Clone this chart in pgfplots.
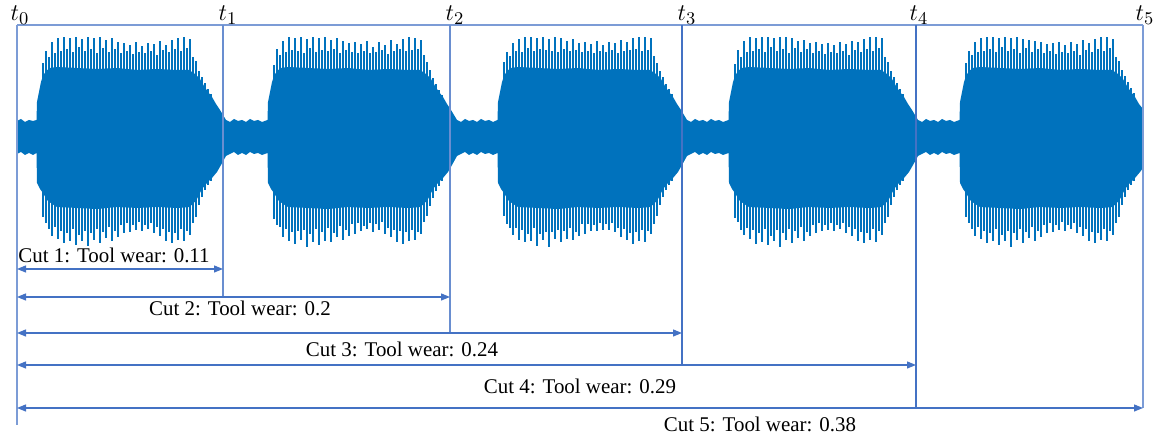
\documentclass[border=0pt]{standalone}
\usepackage{pgfplots}
\pgfplotsset{compat=1.18}
\usepgfplotslibrary{fillbetween}
\usetikzlibrary{arrows.meta}
\usepackage{fontspec}
\setmainfont{Liberation Serif}
\definecolor{mblue}{HTML}{0072BD}
\definecolor{lblue}{HTML}{4472C4}
\begin{document}
\begin{tikzpicture}
\begin{axis}[x=0.5bp,y=0.5bp,xmin=-17,xmax=1142,ymin=-306,ymax=137,hide axis,clip=false]
\path (axis cs:-17,-306) rectangle (axis cs:1142,137);
% upper envelope
\addplot[draw=none,name path=top] coordinates {
(0,16)(4,18)(8,15)(12,17)(16,16)(19.5,17)
(20,35)(22,45)(24,55)(26,61)(29,66)(33,69)(40,70)(60,69)(80,68)(100,69)(120,67)(140,68)(160,67)(172,67)(178,63)(183,58)(187,51)(191,45)(195,40)(199,33)(203,27)(206,22)(209,17)
(213,15)(217,18)(221,16)(225,17)(229,15)(233,18)(237,16)(241,17)(245,15)(250.5,17)
(251,35)(253,45)(255,55)(257,61)(260,66)(264,69)(271,70)(291,69)(311,68)(331,69)(351,67)(371,68)(391,67)(403,67)(409,63)(414,58)(418,51)(422,45)(426,40)(430,33)(434,27)(437,22)(440,17)
(444,15)(448,18)(452,16)(456,17)(460,15)(464,18)(468,16)(472,17)(476,15)(480.5,17)
(481,35)(483,45)(485,55)(487,61)(490,66)(494,69)(501,70)(521,69)(541,68)(561,69)(581,67)(601,68)(621,67)(633,67)(639,63)(644,58)(648,51)(652,45)(656,40)(660,33)(664,27)(667,22)(670,17)
(674,15)(678,18)(682,16)(686,17)(690,15)(694,18)(698,16)(702,17)(706,15)(711.5,17)
(712,35)(714,45)(716,55)(718,61)(721,66)(725,69)(732,70)(752,69)(772,68)(792,69)(812,67)(832,68)(852,67)(864,67)(870,63)(875,58)(879,51)(883,45)(887,40)(891,33)(895,27)(898,22)(901,17)
(905,15)(909,18)(913,16)(917,17)(921,15)(925,18)(929,16)(933,17)(937,15)(942.5,17)
(943,35)(945,45)(947,55)(949,61)(952,66)(956,69)(963,70)(983,69)(1003,68)(1023,69)(1043,67)(1063,68)(1083,67)(1095,67)(1101,63)(1106,58)(1110,51)(1114,45)(1118,40)(1122,33)(1126,28)
};
% lower envelope
\addplot[draw=none,name path=bot] coordinates {
(0,-17)(4,-15)(8,-18)(12,-16)(16,-18)(19.5,-16)
(20,-46)(23,-52)(26,-56)(30,-63)(35,-67)(40,-70)(60,-71)(80,-72)(100,-70)(120,-71)(140,-70)(160,-71)(172,-70)(176,-67)(180,-62)(185,-52)(190,-46)(195,-41)(200,-35)(204,-28)(209,-19)
(213,-17)(217,-15)(221,-18)(225,-16)(229,-18)(233,-15)(237,-17)(241,-16)(245,-18)(250.5,-16)
(251,-46)(254,-52)(257,-56)(261,-63)(266,-67)(271,-70)(291,-71)(311,-72)(331,-70)(351,-71)(371,-70)(391,-71)(403,-70)(407,-67)(411,-62)(416,-52)(421,-46)(426,-41)(431,-35)(435,-28)(440,-19)
(444,-17)(448,-15)(452,-18)(456,-16)(460,-18)(464,-15)(468,-17)(472,-16)(476,-18)(480.5,-16)
(481,-46)(484,-52)(487,-56)(491,-63)(496,-67)(501,-70)(521,-71)(541,-72)(561,-70)(581,-71)(601,-70)(621,-71)(633,-70)(637,-67)(641,-62)(646,-52)(651,-46)(656,-41)(661,-35)(665,-28)(670,-19)
(674,-17)(678,-15)(682,-18)(686,-16)(690,-18)(694,-15)(698,-17)(702,-16)(706,-18)(711.5,-16)
(712,-46)(715,-52)(718,-56)(722,-63)(727,-67)(732,-70)(752,-71)(772,-72)(792,-70)(812,-71)(832,-70)(852,-71)(864,-70)(868,-67)(872,-62)(877,-52)(882,-46)(887,-41)(892,-35)(896,-28)(901,-19)
(905,-17)(909,-15)(913,-18)(917,-16)(921,-18)(925,-15)(929,-17)(933,-16)(937,-18)(942.5,-16)
(943,-46)(946,-52)(949,-56)(953,-63)(958,-67)(963,-70)(983,-71)(1003,-72)(1023,-70)(1043,-71)(1063,-70)(1083,-71)(1095,-70)(1099,-67)(1103,-62)(1108,-52)(1113,-46)(1118,-41)(1123,-35)(1126,-31)
};
\addplot[mblue] fill between[of=top and bot];
% upper peaks
\addplot[ycomb,mblue,line width=0.95bp] coordinates {
(26,74)(29,86)(32,80)(35,95)(38,84)(41,99)(44,86)(47,100)(50,88)(53,99)(56,85)(59,100)(62,90)(65,98)(68,86)(71,100)(74,88)(77,99)(80,84)(83,100)(86,89)(89,97)(92,85)(95,99)(98,88)(101,95)(104,84)(107,94)(110,86)(113,92)(116,83)(119,95)(122,85)(125,91)(128,84)(131,94)(134,86)(137,93)(140,82)(143,96)(146,87)(149,92)(152,85)(155,97)(158,88)(161,99)(164,86)(167,100)(170,89)(173,98)(176,80)(179,76)(182,66)(185,60)(188,54)(191,48)(194,43)
(257,72)(260,88)(263,82)(266,96)(269,85)(272,100)(275,87)(278,99)(281,86)(284,100)(287,84)(290,98)(293,89)(296,100)(299,85)(302,99)(305,87)(308,100)(311,86)(314,97)(317,88)(320,99)(323,84)(326,96)(329,87)(332,94)(335,85)(338,95)(341,84)(344,93)(347,86)(350,96)(353,84)(356,90)(359,85)(362,95)(365,87)(368,92)(371,83)(374,97)(377,86)(380,93)(383,88)(386,98)(389,86)(392,100)(395,87)(398,99)(401,88)(404,97)(407,82)(410,75)(413,67)(416,59)(419,53)(422,47)(425,42)
(487,75)(490,85)(493,81)(496,94)(499,86)(502,98)(505,85)(508,100)(511,89)(514,100)(517,86)(520,99)(523,88)(526,100)(529,87)(532,98)(535,86)(538,100)(541,85)(544,99)(547,88)(550,96)(553,86)(556,98)(559,87)(562,94)(565,85)(568,95)(571,86)(574,93)(577,84)(580,96)(583,86)(586,92)(589,85)(592,95)(595,87)(598,94)(601,84)(604,97)(607,86)(610,95)(613,87)(616,99)(619,88)(622,100)(625,86)(628,100)(631,87)(634,99)(637,81)(640,74)(643,66)(646,60)(649,53)(652,48)(655,43)
(718,73)(721,87)(724,80)(727,96)(730,85)(733,100)(736,86)(739,99)(742,88)(745,100)(748,85)(751,100)(754,90)(757,99)(760,86)(763,100)(766,88)(769,100)(772,84)(775,99)(778,89)(781,96)(784,85)(787,97)(790,88)(793,94)(796,84)(799,95)(802,86)(805,93)(808,83)(811,94)(814,85)(817,92)(820,84)(823,95)(826,86)(829,93)(832,82)(835,96)(838,87)(841,95)(844,85)(847,98)(850,88)(853,100)(856,86)(859,100)(862,89)(865,99)(868,80)(871,75)(874,66)(877,60)(880,54)(883,48)(886,43)
(949,74)(952,86)(955,82)(958,95)(961,85)(964,99)(967,86)(970,100)(973,88)(976,100)(979,85)(982,99)(985,90)(988,100)(991,86)(994,99)(997,88)(1000,100)(1003,84)(1006,98)(1009,89)(1012,97)(1015,85)(1018,96)(1021,88)(1024,95)(1027,84)(1030,93)(1033,86)(1036,94)(1039,83)(1042,95)(1045,85)(1048,92)(1051,84)(1054,95)(1057,86)(1060,93)(1063,82)(1066,97)(1069,87)(1072,94)(1075,85)(1078,98)(1081,88)(1084,100)(1087,86)(1090,100)(1093,89)(1096,98)(1099,80)(1102,76)(1105,67)(1108,61)(1111,55)(1114,49)(1117,44)
};
% lower peaks
\addplot[ycomb,mblue,line width=0.95bp] coordinates {
(26,-80)(29,-86)(32,-92)(35,-99)(38,-90)(41,-102)(44,-94)(47,-106)(50,-96)(53,-104)(56,-92)(59,-108)(62,-98)(65,-104)(68,-94)(71,-109)(74,-96)(77,-103)(80,-92)(83,-106)(86,-95)(89,-101)(92,-90)(95,-104)(98,-94)(101,-100)(104,-88)(107,-96)(110,-86)(113,-95)(116,-88)(119,-93)(122,-85)(125,-94)(128,-88)(131,-92)(134,-86)(137,-96)(140,-90)(143,-99)(146,-92)(149,-104)(152,-95)(155,-106)(158,-96)(161,-103)(164,-92)(167,-104)(170,-94)(173,-98)(176,-86)(179,-80)(182,-68)(185,-60)(188,-53)(191,-48)(194,-44)
(257,-82)(260,-88)(263,-90)(266,-100)(269,-92)(272,-104)(275,-95)(278,-107)(281,-94)(284,-103)(287,-93)(290,-110)(293,-97)(296,-105)(299,-92)(302,-108)(305,-95)(308,-104)(311,-91)(314,-105)(317,-96)(320,-100)(323,-89)(326,-103)(329,-93)(332,-99)(335,-87)(338,-97)(341,-86)(344,-94)(347,-89)(350,-92)(353,-86)(356,-95)(359,-87)(362,-93)(365,-85)(368,-97)(371,-91)(374,-100)(377,-93)(380,-105)(383,-94)(386,-107)(389,-95)(392,-104)(395,-93)(398,-103)(401,-95)(404,-97)(407,-85)(410,-79)(413,-69)(416,-61)(419,-54)(422,-49)(425,-44)
(487,-79)(490,-87)(493,-91)(496,-98)(499,-91)(502,-103)(505,-93)(508,-105)(511,-97)(514,-104)(517,-91)(520,-109)(523,-97)(526,-103)(529,-95)(532,-110)(535,-95)(538,-102)(541,-93)(544,-105)(547,-94)(550,-102)(553,-91)(556,-103)(559,-95)(562,-99)(565,-87)(568,-97)(571,-87)(574,-94)(577,-88)(580,-94)(583,-86)(586,-93)(589,-87)(592,-93)(595,-86)(598,-95)(601,-91)(604,-100)(607,-92)(610,-103)(613,-96)(616,-107)(619,-95)(622,-104)(625,-93)(628,-105)(631,-94)(634,-97)(637,-87)(640,-79)(643,-68)(646,-60)(649,-53)(652,-48)(655,-44)
(718,-81)(721,-85)(724,-93)(727,-98)(730,-91)(733,-102)(736,-93)(739,-107)(742,-96)(745,-105)(748,-92)(751,-108)(754,-99)(757,-104)(760,-93)(763,-110)(766,-96)(769,-103)(772,-92)(775,-106)(778,-94)(781,-101)(784,-90)(787,-104)(790,-95)(793,-99)(796,-88)(799,-96)(802,-86)(805,-94)(808,-88)(811,-93)(814,-86)(817,-94)(820,-88)(823,-92)(826,-86)(829,-96)(832,-90)(835,-99)(838,-92)(841,-104)(844,-95)(847,-106)(850,-96)(853,-103)(856,-92)(859,-105)(862,-94)(865,-98)(868,-86)(871,-80)(874,-68)(877,-60)(880,-53)(883,-48)(886,-44)
(949,-80)(952,-86)(955,-92)(958,-99)(961,-90)(964,-102)(967,-94)(970,-106)(973,-96)(976,-104)(979,-92)(982,-108)(985,-98)(988,-104)(991,-94)(994,-110)(997,-96)(1000,-103)(1003,-92)(1006,-106)(1009,-95)(1012,-101)(1015,-90)(1018,-104)(1021,-94)(1024,-100)(1027,-88)(1030,-96)(1033,-86)(1036,-95)(1039,-88)(1042,-93)(1045,-85)(1048,-94)(1051,-88)(1054,-92)(1057,-86)(1060,-96)(1063,-90)(1066,-99)(1069,-92)(1072,-104)(1075,-95)(1078,-106)(1081,-96)(1084,-103)(1087,-92)(1090,-104)(1093,-94)(1096,-98)(1099,-86)(1102,-80)(1105,-68)(1108,-60)(1111,-53)(1114,-48)(1117,-44)
};
% frame and time marks
\draw[lblue!70,line width=0.6bp] (axis cs:0,112) -- (axis cs:1126,112);
\draw[lblue!70,line width=0.6bp] (axis cs:0,112) -- (axis cs:0,-288);
\draw[lblue!80,line width=0.6bp] (axis cs:206,112) -- (axis cs:206,-160);
\draw[lblue!80,line width=0.6bp] (axis cs:433,112) -- (axis cs:433,-196);
\draw[lblue,line width=0.6bp] (axis cs:665,112) -- (axis cs:665,-228);
\draw[lblue,line width=0.6bp] (axis cs:899,112) -- (axis cs:899,-271);
\draw[lblue!70,line width=0.6bp] (axis cs:1126,112) -- (axis cs:1126,-271);
\begin{scope}[lblue,line width=0.6bp,{Triangle[length=4.5bp,width=3.5bp]}-{Triangle[length=4.5bp,width=3.5bp]}]
\draw (axis cs:0,-132) -- (axis cs:206,-132);
\draw (axis cs:0,-160) -- (axis cs:433,-160);
\draw (axis cs:0,-196) -- (axis cs:665,-196);
\draw (axis cs:0,-228) -- (axis cs:899,-228);
\draw (axis cs:0,-271) -- (axis cs:1126,-271);
\end{scope}
\begin{scope}[every node/.style={anchor=base,inner sep=0pt,font=\fontsize{10.5}{12}\selectfont}]
\node at (axis cs:97,-126) {Cut 1: Tool wear: 0.11};
\node at (axis cs:223,-179) {Cut 2: Tool wear: 0.2};
\node at (axis cs:385,-220) {Cut 3: Tool wear: 0.24};
\node at (axis cs:563,-257) {Cut 4: Tool wear: 0.29};
\node at (axis cs:743,-295) {Cut 5: Tool wear: 0.38};
\end{scope}
\begin{scope}[every node/.style={anchor=base,inner sep=0pt,font=\fontsize{13}{15}\selectfont}]
\node at (axis cs:3,116) {$t_0$};
\node at (axis cs:211,116) {$t_1$};
\node at (axis cs:438,116) {$t_2$};
\node at (axis cs:670,116) {$t_3$};
\node at (axis cs:902,116) {$t_4$};
\node at (axis cs:1128,116) {$t_5$};
\end{scope}
\end{axis}
\end{tikzpicture}
\end{document}
